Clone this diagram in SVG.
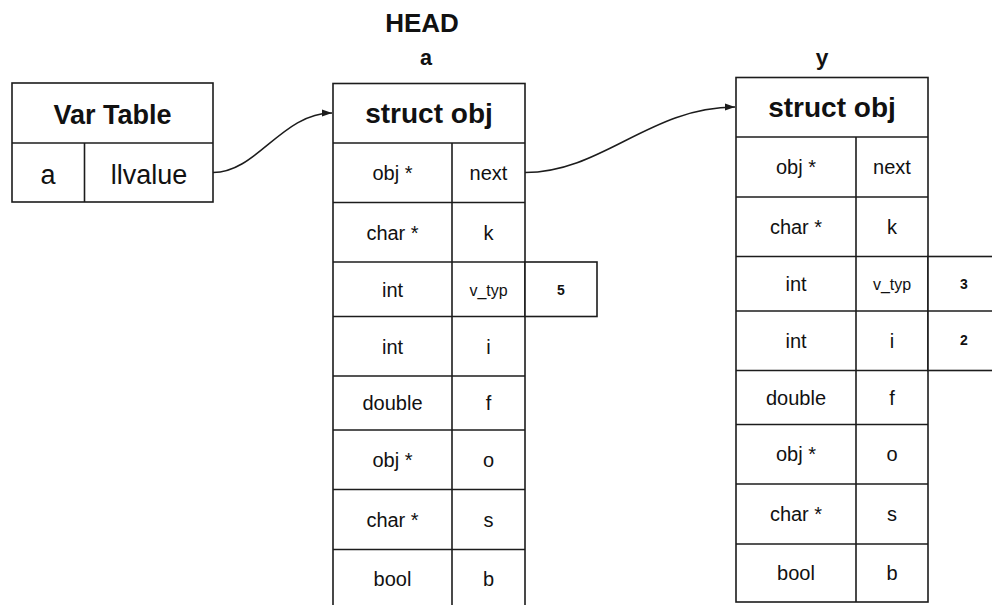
<svg xmlns="http://www.w3.org/2000/svg" width="992" height="605" viewBox="0 0 992 605">
  <style>
    .box { fill: #ffffff; stroke: #1c1c1c; stroke-width: 1.6; }
    .ln { stroke: #1c1c1c; stroke-width: 1.6; fill: none; }
    .wire { stroke: #1c1c1c; stroke-width: 1.5; fill: none; }
    .title { font-family: "Liberation Sans", Arial, sans-serif; font-weight: bold; fill: #111; text-anchor: middle; }
    .big { font-family: "Liberation Sans", Arial, sans-serif; font-size: 27px; fill: #111; text-anchor: middle; }
    .cell { font-family: "Liberation Sans", Arial, sans-serif; font-size: 20px; fill: #111; text-anchor: middle; }
    .small { font-family: "Liberation Sans", Arial, sans-serif; font-size: 16px; fill: #111; text-anchor: middle; }
    .val { font-family: "Liberation Sans", Arial, sans-serif; font-size: 14px; font-weight: bold; fill: #111; text-anchor: middle; }
    .var { font-family: "Liberation Mono", "Courier New", monospace; font-size: 22px; font-weight: bold; fill: #111; text-anchor: middle; }
  </style>
  <defs>
    <marker id="arrow" markerUnits="userSpaceOnUse" markerWidth="11" markerHeight="8" refX="10" refY="4" orient="auto">
      <path d="M0,0.5 L10,4 L0,7.5 z" fill="#1c1c1c"/>
    </marker>
  </defs>

  <rect width="992" height="605" fill="#ffffff"/>

  <!-- variable table -->
  <g id="var-table">
    <rect class="box" x="12" y="83" width="201" height="119"/>
    <line class="ln" x1="12" y1="143" x2="213" y2="143"/>
    <line class="ln" x1="84.5" y1="143" x2="84.5" y2="202"/>
    <text class="title" x="112.5" y="124" font-size="27">Var Table</text>
    <text class="big" x="48" y="184">a</text>
    <text class="big" x="149" y="184">llvalue</text>
  </g>

  <!-- head object "a" -->
  <g id="obj-a">
    <text class="title" x="422" y="32" font-size="26">HEAD</text>
    <text class="var" x="426" y="65">a</text>
    <rect class="box" x="333" y="83.5" width="192" height="535"/>
    <line class="ln" x1="333" y1="143" x2="525" y2="143"/>
    <line class="ln" x1="333" y1="202.5" x2="525" y2="202.5"/>
    <line class="ln" x1="333" y1="262" x2="525" y2="262"/>
    <line class="ln" x1="333" y1="316.5" x2="525" y2="316.5"/>
    <line class="ln" x1="333" y1="376" x2="525" y2="376"/>
    <line class="ln" x1="333" y1="430" x2="525" y2="430"/>
    <line class="ln" x1="333" y1="489.5" x2="525" y2="489.5"/>
    <line class="ln" x1="333" y1="549.5" x2="525" y2="549.5"/>
    <line class="ln" x1="452" y1="143" x2="452" y2="620"/>
    <text class="title" x="429" y="123" font-size="28">struct obj</text>
    <text class="cell" x="392.5" y="180">obj *</text>
    <text class="cell" x="488.5" y="180">next</text>
    <text class="cell" x="392.5" y="239.5">char *</text>
    <text class="cell" x="488.5" y="239.5">k</text>
    <text class="cell" x="392.5" y="296.5">int</text>
    <text class="small" x="488.5" y="295.5">v_typ</text>
    <text class="cell" x="392.5" y="353.5">int</text>
    <text class="cell" x="488.5" y="353.5">i</text>
    <text class="cell" x="392.5" y="410">double</text>
    <text class="cell" x="488.5" y="410">f</text>
    <text class="cell" x="392.5" y="467">obj *</text>
    <text class="cell" x="488.5" y="467">o</text>
    <text class="cell" x="392.5" y="526.5">char *</text>
    <text class="cell" x="488.5" y="526.5">s</text>
    <text class="cell" x="392.5" y="586">bool</text>
    <text class="cell" x="488.5" y="586">b</text>
    <rect class="box" x="525" y="262" width="72" height="54.5"/>
    <text class="val" x="561" y="295">5</text>
  </g>

  <!-- second object "y" -->
  <g id="obj-y">
    <text class="var" x="822" y="65">y</text>
    <rect class="box" x="736" y="77.5" width="192" height="524.5"/>
    <line class="ln" x1="736" y1="137" x2="928" y2="137"/>
    <line class="ln" x1="736" y1="197" x2="928" y2="197"/>
    <line class="ln" x1="736" y1="256.5" x2="928" y2="256.5"/>
    <line class="ln" x1="736" y1="311" x2="928" y2="311"/>
    <line class="ln" x1="736" y1="370.5" x2="928" y2="370.5"/>
    <line class="ln" x1="736" y1="424.5" x2="928" y2="424.5"/>
    <line class="ln" x1="736" y1="484" x2="928" y2="484"/>
    <line class="ln" x1="736" y1="544" x2="928" y2="544"/>
    <line class="ln" x1="856" y1="137" x2="856" y2="602"/>
    <text class="title" x="832" y="117" font-size="28">struct obj</text>
    <text class="cell" x="796" y="174">obj *</text>
    <text class="cell" x="892" y="174">next</text>
    <text class="cell" x="796" y="234">char *</text>
    <text class="cell" x="892" y="234">k</text>
    <text class="cell" x="796" y="291">int</text>
    <text class="small" x="892" y="290">v_typ</text>
    <text class="cell" x="796" y="348">int</text>
    <text class="cell" x="892" y="348">i</text>
    <text class="cell" x="796" y="405">double</text>
    <text class="cell" x="892" y="405">f</text>
    <text class="cell" x="796" y="461">obj *</text>
    <text class="cell" x="892" y="461">o</text>
    <text class="cell" x="796" y="521">char *</text>
    <text class="cell" x="892" y="521">s</text>
    <text class="cell" x="796" y="580">bool</text>
    <text class="cell" x="892" y="580">b</text>
    <rect class="box" x="928" y="256.5" width="80" height="114"/>
    <line class="ln" x1="928" y1="311" x2="1000" y2="311"/>
    <text class="val" x="964" y="289">3</text>
    <text class="val" x="964" y="345">2</text>
  </g>

  <!-- pointers -->
  <g id="connectors">
    <path class="wire" d="M213,172.5 C257,172.5 282,113 332,113" marker-end="url(#arrow)"/>
    <path class="wire" d="M525,172.5 C602,172.5 650,107 735,107" marker-end="url(#arrow)"/>
  </g>
</svg>
